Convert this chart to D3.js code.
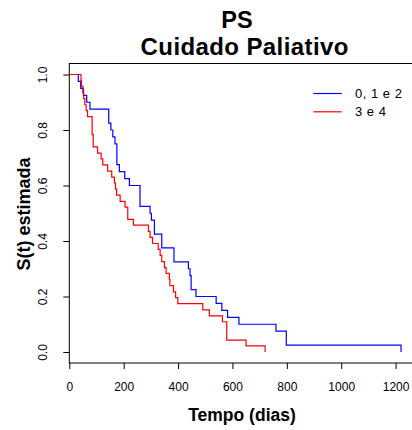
<!DOCTYPE html>
<html>
<head>
<meta charset="utf-8">
<script src="https://cdn.jsdelivr.net/npm/d3@7"></script>
<style>
  body { margin: 0; background: #fff; }
  text { font-family: "Liberation Sans", Arial, sans-serif; fill: #000; }
</style>
</head>
<body>
<div id="chart"></div>
<script>
// Kaplan-Meier estimates (time in days, S(t) after each drop)
var groups = ["0, 1 e 2", "3 e 4"],
    colors = ["#0000ff", "#ff0000"],
    blueTimes = [33, 42, 52, 64, 76, 145, 153, 160, 168, 175, 184, 204, 221, 260, 297, 302, 313, 340, 385,
                 438, 444, 448, 466, 540, 561, 582, 624, 760, 798, 1220],
    blueSurv = [0.975, 0.95, 0.925, 0.9, 0.875, 0.825, 0.8, 0.775, 0.75, 0.675, 0.65, 0.625, 0.6, 0.525, 0.5,
                0.475, 0.425, 0.375, 0.325, 0.3, 0.275, 0.225, 0.2, 0.175, 0.15, 0.125, 0.1, 0.075, 0.025, 0],
    redTimes = [43, 45, 50, 53, 57, 62, 67, 84, 88, 104, 117, 123, 141, 156, 166, 170, 174, 187, 205, 215,
                236, 291, 297, 306, 327, 334, 340, 350, 356, 368, 370, 383, 391, 399, 491, 515, 563, 579, 650, 720],
    redSurv = [0.978, 0.957, 0.935, 0.913, 0.891, 0.870, 0.848, 0.783, 0.739, 0.717, 0.696, 0.674, 0.652, 0.630,
               0.609, 0.587, 0.565, 0.543, 0.522, 0.478, 0.457, 0.435, 0.413, 0.391, 0.370, 0.348, 0.326, 0.304,
               0.283, 0.261, 0.239, 0.217, 0.196, 0.174, 0.152, 0.130, 0.109, 0.043, 0.022, 0],
    xTicks = [0, 200, 400, 600, 800, 1000, 1200],
    yTicks = [0, 0.2, 0.4, 0.6, 0.8, 1.0];

var width = 412, height = 430;

var svg = d3.select("#chart").append("svg")
    .attr("width", width)
    .attr("height", height);

var x = d3.scaleLinear().domain([0, 1200]).range([69.3, 395.6]),
    y = d3.scaleLinear().domain([0, 1]).range([352, 74.5]);

var boxTop = 63.5, boxBottom = 363;

// plot box (runs off the right edge like the original)
svg.append("rect")
    .attr("x", x(0))
    .attr("y", boxTop)
    .attr("width", 400)
    .attr("height", boxBottom - boxTop)
    .attr("fill", "none")
    .attr("stroke", "#000")
    .attr("stroke-width", 1);

// x axis
var xAxis = svg.append("g")
    .attr("transform", "translate(0," + boxBottom + ")")
    .call(d3.axisBottom(x).tickValues(xTicks).tickSize(6).tickPadding(13).tickFormat(d3.format("d")));
xAxis.select(".domain").remove();
xAxis.selectAll("text").style("font-size", "12px").style("font-family", "Liberation Sans, Arial, sans-serif");

// y axis, labels rotated as in R
var yAxis = svg.append("g")
    .attr("transform", "translate(" + x(0) + ",0)")
    .call(d3.axisLeft(y).tickValues(yTicks).tickSize(6).tickFormat(d3.format(".1f")));
yAxis.select(".domain").remove();
yAxis.selectAll("text")
    .attr("x", null)
    .attr("dy", null)
    .attr("transform", "translate(-22.6,0) rotate(-90)")
    .style("text-anchor", "middle")
    .style("font-size", "12px")
    .style("font-family", "Liberation Sans, Arial, sans-serif");

// survival curves
var line = d3.line()
    .x(function(d) { return x(d[0]); })
    .y(function(d) { return y(d[1]); })
    .curve(d3.curveStepAfter);

var series = [
  [[0, 1]].concat(blueTimes.map(function(t, i) { return [t, blueSurv[i]]; })),
  [[0, 1]].concat(redTimes.map(function(t, i) { return [t, redSurv[i]]; }))
];

svg.selectAll(".km")
    .data(series)
    .enter().append("path")
    .attr("class", "km")
    .attr("d", line)
    .attr("fill", "none")
    .attr("stroke", function(d, i) { return colors[i]; })
    .attr("stroke-width", 1.2);

// legend
var legend = svg.selectAll(".legend")
    .data(groups)
    .enter().append("g")
    .attr("class", "legend")
    .attr("transform", function(d, i) { return "translate(0," + (93.5 + i * 18.3) + ")"; });

legend.append("line")
    .attr("x1", 313.3).attr("x2", 341.7)
    .attr("stroke", function(d, i) { return colors[i]; })
    .attr("stroke-width", 1.2);

legend.append("text")
    .attr("x", 355)
    .attr("y", 4.5)
    .style("font-size", "13px")
    .style("letter-spacing", "0.5px")
    .text(function(d) { return d; });

// titles
svg.append("text").text("PS")
    .attr("x", 237).attr("y", 28.3)
    .style("text-anchor", "middle")
    .style("font-size", "23.5px").style("font-weight", "bold");

svg.append("text").text("Cuidado Paliativo")
    .attr("x", 244.7).attr("y", 55.3)
    .style("text-anchor", "middle")
    .style("font-size", "24px").style("font-weight", "bold")
    .style("letter-spacing", "0.4px");

svg.append("text").text("Tempo (dias)")
    .attr("x", 242).attr("y", 420.7)
    .style("text-anchor", "middle")
    .style("font-size", "17.5px").style("font-weight", "bold");

svg.append("text").text("S(t) estimada")
    .attr("transform", "translate(29.5,214) rotate(-90)")
    .style("text-anchor", "middle")
    .style("font-size", "18px").style("font-weight", "bold");
</script>
</body>
</html>
